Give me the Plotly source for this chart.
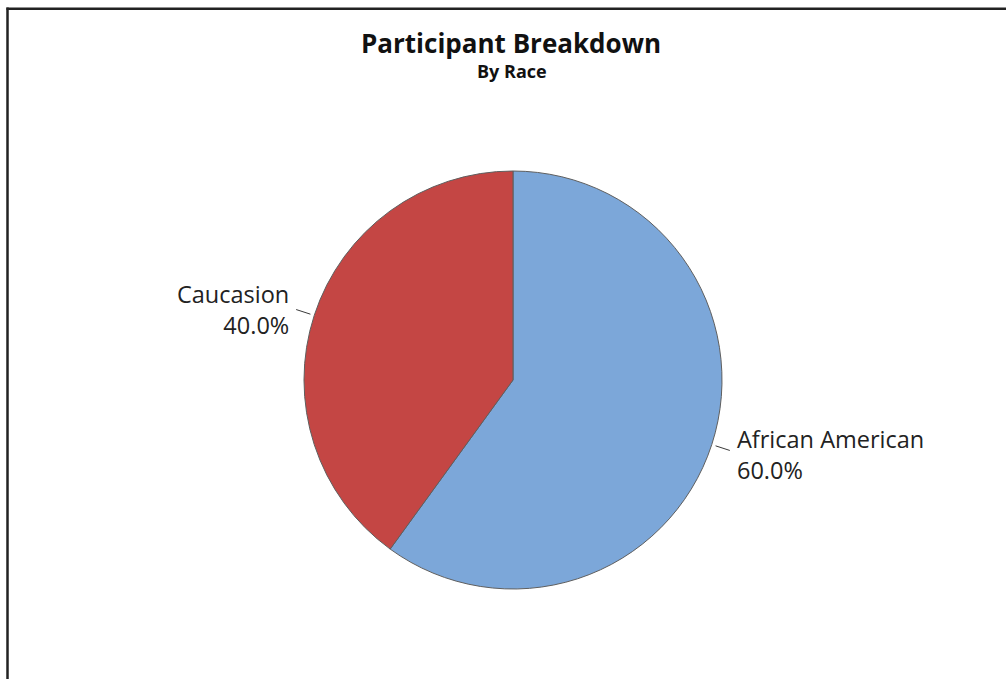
import math
import plotly.graph_objects as go

# ---- data ----
categories = ["African American", "Caucasion"]
values = [60, 40]
colors = ["#7CA7D9", "#C44644"]
title_text = "Participant Breakdown"
subtitle_text = "By Race"

# ---- layout geometry (pixels) ----
W, H = 1006, 679
cx, cy, r = 513, 380, 209

def px_to_paper(x, y):
    return x / W, 1 - y / H

fig = go.Figure(go.Pie(
    labels=categories,
    values=values,
    sort=False,
    direction="clockwise",
    rotation=0,
    automargin=False,
    marker=dict(colors=colors, line=dict(color="#5f5f5f", width=1)),
    textinfo="none",
    showlegend=False,
    hoverinfo="skip",
    domain=dict(x=[(cx - 400) / W, (cx + 400) / W],
                y=[1 - (cy + r) / H, 1 - (cy - r) / H]),
))

# labels with short radial leader lines, placed from the slice mid-angles
total = sum(values)
annotations = []
shapes = []
cum = 0
for lab, v in zip(categories, values):
    mid = 2 * math.pi * (cum + v / 2) / total  # clockwise from 12 o'clock
    cum += v
    s, c = math.sin(mid), math.cos(mid)
    x0, y0 = px_to_paper(cx + (r + 4) * s, cy - (r + 4) * c)
    x1, y1 = px_to_paper(cx + (r + 19) * s, cy - (r + 19) * c)
    shapes.append(dict(type="line", xref="paper", yref="paper",
                       x0=x0, y0=y0, x1=x1, y1=y1,
                       line=dict(color="#3a3a3a", width=1)))
    tx, ty = px_to_paper(cx + (r + 26) * s, cy - (r + 26) * c + 2)
    annotations.append(dict(
        text=f"{lab}<br>{100 * v / total:.1f}%",
        x=tx, y=ty, xref="paper", yref="paper", showarrow=False,
        xanchor="left" if s > 0 else "right", yanchor="middle",
        align="left" if s > 0 else "right", borderpad=0,
        font=dict(family="Open Sans", size=23.5, color="#222"),
    ))

annotations += [
    dict(text=f"<b>{title_text}</b>", x=511 / W, y=1 - 43 / H,
         xref="paper", yref="paper", showarrow=False, xanchor="center", yanchor="middle",
         font=dict(family="Open Sans", size=26, color="#111")),
    dict(text=f"<b>{subtitle_text}</b>", x=512 / W, y=1 - 71 / H,
         xref="paper", yref="paper", showarrow=False, xanchor="center", yanchor="middle",
         font=dict(family="Open Sans", size=18, color="#111")),
]

# frame (left and top edges visible in the reference)
shapes += [
    dict(type="line", xref="paper", yref="paper", x0=7.5 / W, x1=7.5 / W, y0=-0.01, y1=1 - 7.5 / H,
         line=dict(color="#222", width=2.5)),
    dict(type="line", xref="paper", yref="paper", x0=6.5 / W, x1=1.01, y0=1 - 8.7 / H, y1=1 - 8.7 / H,
         line=dict(color="#222", width=2.5)),
]

fig.update_layout(
    width=W, height=H,
    autosize=False,
    margin=dict(l=0, r=0, t=0, b=0, autoexpand=False),
    paper_bgcolor="white",
    plot_bgcolor="white",
    annotations=annotations,
    shapes=shapes,
)

fig.write_html("out.html")
